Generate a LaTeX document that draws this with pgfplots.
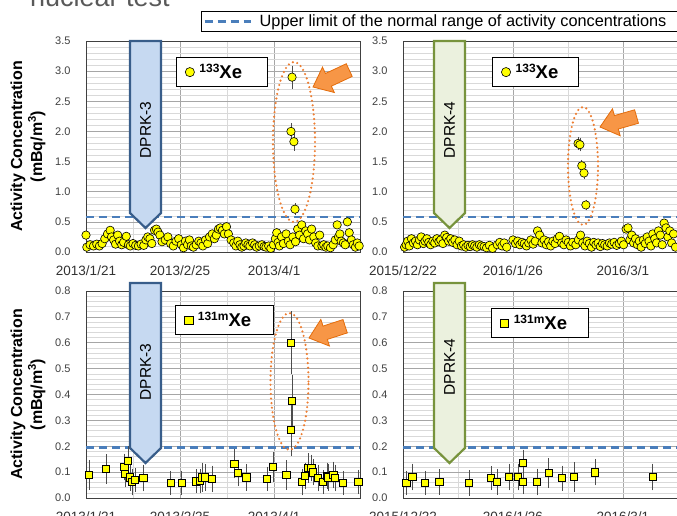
\documentclass[border=0pt]{standalone}
\usepackage{pgfplots}
\usepackage{pgfplotstable}
\pgfplotsset{compat=1.18}
\usepackage{fontspec}
\setmainfont{Liberation Sans}

\definecolor{xeyellow}{RGB}{255,255,0}
\definecolor{limblue}{RGB}{74,126,187}
\definecolor{dprkblue}{RGB}{198,217,241}
\definecolor{dprkblueb}{RGB}{56,93,138}
\definecolor{dprkgreen}{RGB}{235,241,222}
\definecolor{dprkgreenb}{RGB}{119,147,60}
\definecolor{orangefill}{RGB}{247,150,70}
\definecolor{orangedark}{RGB}{228,108,10}
\definecolor{orangeline}{RGB}{237,125,49}
\definecolor{gridmaj}{RGB}{166,166,166}
\definecolor{gridmin}{RGB}{217,217,217}

\newcommand{\iso}[1]{\raisebox{5.5pt}{\fontsize{12}{13}\selectfont\bfseries #1}}
\newcommand{\xelab}[2]{{\fontsize{18.5}{20}\selectfont\bfseries\iso{#1}Xe\rule{#2}{0pt}}}

% ---------- data ----------
\pgfplotstableread{
x y
0.0 0.28
0.3 0.08
1.5 0.12
2.8 0.10
4.0 0.13
5.0 0.10
6.0 0.14
7.0 0.22
8.0 0.30
9.0 0.36
9.5 0.25
10.3 0.20
11.0 0.13
11.8 0.28
12.5 0.18
13.3 0.12
14.0 0.16
15.0 0.26
15.8 0.12
16.5 0.10
17.5 0.14
18.5 0.11
19.5 0.10
20.5 0.13
21.5 0.11
22.3 0.20
23.0 0.25
23.8 0.22
24.5 0.14
25.5 0.36
26.2 0.38
26.8 0.33
27.5 0.28
28.3 0.17
29.5 0.20
30.5 0.25
31.5 0.14
32.5 0.10
33.5 0.18
34.5 0.22
35.5 0.12
36.3 0.07
37.0 0.18
37.8 0.12
38.5 0.20
39.2 0.10
40.0 0.08
41.0 0.12
42.0 0.18
42.8 0.15
43.5 0.10
44.5 0.20
45.3 0.14
46.0 0.25
47.0 0.30
47.8 0.22
48.5 0.28
49.3 0.38
50.0 0.40
50.8 0.36
51.5 0.30
52.3 0.42
53.0 0.30
54.0 0.20
55.0 0.15
55.8 0.10
56.5 0.18
57.3 0.12
58.0 0.08
58.8 0.10
59.5 0.15
60.3 0.12
61.0 0.10
62.0 0.15
62.8 0.12
63.5 0.08
64.5 0.10
65.5 0.12
66.3 0.09
67.0 0.08
68.0 0.10
68.8 0.06
69.8 0.12
70.5 0.22
71.0 0.32
71.5 0.16
72.0 0.10
72.8 0.25
73.5 0.14
74.5 0.30
75.3 0.18
76.0 0.12
77.0 0.25
78.0 0.17
78.8 0.38
79.5 0.28
80.3 0.45
81.0 0.22
81.8 0.35
82.5 0.30
83.2 0.20
84.0 0.38
84.8 0.25
85.5 0.15
86.3 0.10
87.0 0.28
87.8 0.10
88.5 0.12
89.3 0.08
90.0 0.10
91.0 0.07
92.0 0.12
92.8 0.20
93.5 0.45
94.0 0.25
94.5 0.30
95.0 0.18
95.8 0.15
96.5 0.12
97.3 0.50
98.0 0.32
98.8 0.20
99.5 0.12
100.3 0.08
101.0 0.15
101.7 0.10
}\tlmain
\pgfplotstableread{
x y e
76.3 2.00 0.09
76.7 2.90 0.14
77.4 1.83 0.10
77.8 0.71 0.05
}\tlout
\pgfplotstableread{
x y
0.5 0.08
1.0 0.12
1.5 0.18
2.0 0.10
2.7 0.22
3.3 0.15
4.0 0.18
4.6 0.12
5.2 0.20
5.8 0.25
6.5 0.14
7.0 0.18
7.6 0.22
8.2 0.16
8.8 0.12
9.5 0.18
10.1 0.15
10.8 0.22
11.4 0.17
12.0 0.20
12.7 0.14
13.3 0.28
13.9 0.24
14.5 0.18
15.2 0.22
15.8 0.16
16.5 0.20
17.2 0.12
17.9 0.18
18.6 0.10
19.3 0.12
20.0 0.08
20.7 0.11
21.4 0.09
22.1 0.12
22.8 0.10
23.5 0.08
24.3 0.12
25.0 0.10
25.8 0.09
26.6 0.07
27.5 0.11
28.5 0.06
30.0 0.12
30.8 0.16
31.5 0.10
32.2 0.15
33.0 0.08
35.0 0.20
35.8 0.14
36.5 0.18
37.2 0.12
37.9 0.16
38.6 0.14
39.3 0.10
40.0 0.15
40.7 0.20
41.4 0.13
42.1 0.18
42.8 0.35
43.5 0.28
44.2 0.15
44.9 0.20
45.6 0.12
46.3 0.17
47.0 0.10
47.7 0.18
48.4 0.14
49.1 0.22
49.8 0.26
50.5 0.15
51.2 0.12
51.9 0.20
52.6 0.16
53.3 0.10
54.0 0.16
55.0 0.12
55.8 0.20
56.5 0.28
57.2 0.15
57.9 0.10
58.6 0.18
59.3 0.14
60.0 0.08
60.7 0.16
61.4 0.12
62.1 0.15
62.8 0.09
63.5 0.14
64.2 0.12
65.0 0.10
65.7 0.15
66.4 0.13
67.2 0.16
68.0 0.11
68.8 0.14
69.5 0.18
70.2 0.12
71.0 0.38
71.6 0.40
72.2 0.20
72.8 0.28
73.4 0.15
74.0 0.22
74.6 0.12
75.2 0.18
75.8 0.08
76.5 0.20
77.1 0.14
77.7 0.25
78.3 0.18
78.9 0.10
79.5 0.30
80.1 0.22
80.7 0.15
81.3 0.35
81.9 0.28
82.5 0.12
83.1 0.48
83.7 0.40
84.3 0.25
84.9 0.35
85.5 0.15
86.1 0.30
86.7 0.08
}\trmain
\pgfplotstableread{
x y e
55.7 1.80 0.06
56.3 1.78 0.06
56.9 1.43 0.05
57.6 1.31 0.05
58.2 0.78 0.04
}\trout
\pgfplotstableread{
x y e
1.1 0.089 0.045
7.4 0.112 0.045
14.2 0.120 0.040
14.5 0.093 0.040
15.6 0.143 0.045
16.4 0.080 0.040
17.1 0.062 0.040
18.2 0.070 0.035
21.3 0.077 0.040
31.5 0.058 0.035
35.6 0.058 0.035
40.9 0.064 0.035
42.4 0.066 0.035
43.2 0.080 0.045
44.3 0.080 0.040
46.9 0.074 0.040
55.2 0.132 0.045
56.6 0.097 0.040
59.6 0.080 0.040
67.4 0.074 0.035
69.6 0.120 0.045
74.5 0.089 0.045
80.4 0.062 0.040
81.5 0.085 0.040
82.7 0.116 0.045
83.8 0.116 0.040
84.5 0.100 0.040
86.4 0.077 0.040
88.2 0.062 0.035
89.7 0.085 0.040
90.1 0.080 0.040
92.0 0.089 0.040
92.7 0.077 0.040
95.7 0.058 0.035
101.3 0.062 0.035
}\blmain
\pgfplotstableread{
x y e
76.3 0.600 0.11
76.7 0.375 0.09
76.3 0.263 0.09
}\blout
\pgfplotstableread{
x y e
1.0 0.058 0.035
2.9 0.081 0.040
7.0 0.058 0.035
11.5 0.062 0.037
21.0 0.058 0.037
28.0 0.077 0.035
29.9 0.062 0.037
33.7 0.081 0.040
36.6 0.081 0.040
38.2 0.135 0.040
38.2 0.062 0.035
42.6 0.062 0.040
46.4 0.097 0.045
50.6 0.077 0.037
54.4 0.081 0.045
61.1 0.100 0.040
79.5 0.081 0.040
}\brmain

\pgfplotsset{
  panel/.style={
    scale only axis, width=274pt, anchor=south west,
    axis line style={black!75, line width=0.8pt},
    grid=both,
    major grid style={gridmaj, line width=0.7pt},
    minor grid style={gridmin, line width=0.5pt},
    major tick length=0pt, minor tick length=0pt,
    minor x tick num=1,
    xtick={0,35,70},
    ymin=0, clip=false,
    /pgf/number format/fixed, /pgf/number format/fixed zerofill,
    /pgf/number format/precision=1, /pgf/number format/assume math mode=true,
    yticklabel style={font=\fontsize{11}{13}\selectfont, text=black!75, xshift=-12pt},
    xticklabel style={font=\fontsize{13.5}{15}\selectfont, text=black!80, yshift=-10pt},
    every axis y label/.style={at={(axis description cs:-0.2117,0.5)}, rotate=90, anchor=center,
      font=\fontsize{16}{20}\selectfont\bfseries, align=center, text=black},
    legend style={draw=black, line width=0.8pt, fill=white, inner xsep=9pt, inner ysep=5pt,
      anchor=north west, column sep=3pt},
    legend cell align=left,
    legend image code/.code={\draw[##1] plot coordinates {(0pt,0pt)};},
  },
  toppanel/.style={panel, height=211pt, ymax=3.5, ytick={0,0.5,1,1.5,2,2.5,3,3.5}, minor y tick num=4},
  botpanel/.style={panel, height=207pt, ymax=0.8, ytick={0,0.1,0.2,0.3,0.4,0.5,0.6,0.7,0.8}, minor y tick num=4},
  c133/.style={only marks, mark=*, mark size=4.2pt, mark options={solid, fill=xeyellow, draw=black, line width=0.6pt}},
  s131/.style={only marks, mark=square*, mark size=3.7pt, mark options={solid, fill=xeyellow, draw=black, line width=0.6pt}},
  lim/.style={limblue, line width=2.2pt, dash pattern=on 8pt off 5pt},
  eb/.style={error bars/y dir=both, error bars/y explicit,
    error bars/error bar style={black!70, line width=0.7pt},
    error bars/error mark options={black!70, mark size=3pt, line width=0.7pt}},
}

\begin{document}
\begin{tikzpicture}
\useasboundingbox (0pt,0pt) rectangle (677pt,516pt);

% partial title
\node[anchor=base west, font=\fontsize{27}{30}\selectfont, text=black!65, inner sep=0pt] at (30pt,509pt) {nuclear test};

% ---------- top left ----------
\begin{axis}[toppanel, at={(86pt,264pt)}, xmin=0, xmax=102,
  xticklabels={2013/1/21,2013/2/25,2013/4/1},
  ylabel={Activity Concentration\\(mBq/m\textsuperscript{3})},
  legend style={at={(rel axis cs:0.328,0.924)}}]
\addlegendimage{c133, mark size=4.6pt}
\addlegendentry{\xelab{133}{14pt}}
\addplot[lim, forget plot] coordinates {(0,0.58) (102,0.58)};
\addplot[c133, forget plot] table[x=x,y=y] {\tlmain};
\addplot[c133, eb, forget plot] table[x=x,y=y,y error=e] {\tlout};
\end{axis}

% ---------- top right ----------
\begin{axis}[toppanel, at={(403pt,264pt)}, xmin=0, xmax=87.2,
  xticklabels={2015/12/22,2016/1/26,2016/3/1},
  legend style={at={(rel axis cs:0.325,0.924)}}]
\addlegendimage{c133, mark size=4.6pt}
\addlegendentry{\xelab{133}{9pt}}
\addplot[lim, forget plot] coordinates {(0,0.58) (87.2,0.58)};
\addplot[c133, forget plot] table[x=x,y=y] {\trmain};
\addplot[c133, eb, forget plot] table[x=x,y=y,y error=e] {\trout};
\end{axis}

% ---------- bottom left ----------
\begin{axis}[botpanel, at={(86pt,18pt)}, xmin=0, xmax=102,
  xticklabels={2013/1/21,2013/2/25,2013/4/1},
  ylabel={Activity Concentration\\(mBq/m\textsuperscript{3})},
  legend style={at={(rel axis cs:0.325,0.932)}}]
\addlegendimage{s131, mark size=4.2pt}
\addlegendentry{\xelab{131m}{11pt}}
\addplot[lim, forget plot] coordinates {(0,0.195) (102,0.195)};
\addplot[s131, eb, forget plot] table[x=x,y=y,y error=e] {\blmain};
\addplot[s131, eb, forget plot] table[x=x,y=y,y error=e] {\blout};
\end{axis}

% ---------- bottom right ----------
\begin{axis}[botpanel, at={(403pt,18pt)}, xmin=0, xmax=87.2,
  xticklabels={2015/12/22,2016/1/26,2016/3/1},
  legend style={at={(rel axis cs:0.321,0.918)}}]
\addlegendimage{s131, mark size=4.2pt}
\addlegendentry{\xelab{131m}{10pt}}
\addplot[lim, forget plot] coordinates {(0,0.195) (87.2,0.195)};
\addplot[s131, eb, forget plot] table[x=x,y=y,y error=e] {\brmain};
\end{axis}

% ---------- top legend (upper limit) ----------
\begin{axis}[scale only axis, width=274pt, height=211pt, at={(86pt,264pt)}, anchor=south west,
  hide axis, xmin=0, xmax=1, ymin=0, ymax=1,
  legend style={at={(rel axis cs:0.42,1.142)}, anchor=north west, draw=black, line width=0.8pt,
    font=\fontsize{16.3}{18}\selectfont, inner xsep=2pt, inner ysep=1.5pt, column sep=6pt},
  legend image code/.code={\draw[#1] (0pt,0pt) -- (46pt,0pt);}]
\addlegendimage{lim}
\addlegendentry{Upper limit of the normal range of activity concentrations\rule{7pt}{0pt}}
\end{axis}

% ---------- DPRK arrows ----------
\filldraw[fill=dprkblue, draw=dprkblueb, line width=2.2pt, line join=miter]
  (130pt,475pt) -- (161pt,475pt) -- (161pt,303pt) -- (145.5pt,288pt) -- (130pt,303pt) -- cycle;
\node[rotate=90, font=\fontsize{15.5}{17}\selectfont] at (145.5pt,386pt) {DPRK-3};
\filldraw[fill=dprkgreen, draw=dprkgreenb, line width=2.2pt, line join=miter]
  (434pt,475pt) -- (465pt,475pt) -- (465pt,303pt) -- (449.5pt,288pt) -- (434pt,303pt) -- cycle;
\node[rotate=90, font=\fontsize{15.5}{17}\selectfont] at (449.5pt,386pt) {DPRK-4};
\filldraw[fill=dprkblue, draw=dprkblueb, line width=2.2pt, line join=miter]
  (130pt,233pt) -- (161pt,233pt) -- (161pt,68pt) -- (145.5pt,53pt) -- (130pt,68pt) -- cycle;
\node[rotate=90, font=\fontsize{15.5}{17}\selectfont] at (145.5pt,144pt) {DPRK-3};
\filldraw[fill=dprkgreen, draw=dprkgreenb, line width=2.2pt, line join=miter]
  (434pt,233pt) -- (465pt,233pt) -- (465pt,68pt) -- (449.5pt,53pt) -- (434pt,68pt) -- cycle;
\node[rotate=90, font=\fontsize{15.5}{17}\selectfont] at (449.5pt,149pt) {DPRK-4};

% ---------- dotted ellipses ----------
\draw[orangeline, line width=2.4pt, line cap=round, dash pattern=on 0pt off 4.6pt]
  (294pt,374pt) ellipse [x radius=21pt, y radius=80pt];
\draw[orangeline, line width=2.4pt, line cap=round, dash pattern=on 0pt off 4.6pt]
  (583pt,350pt) ellipse [x radius=15pt, y radius=59pt];
\draw[orangeline, line width=2.4pt, line cap=round, dash pattern=on 0pt off 4.6pt]
  (289.5pt,134.5pt) ellipse [x radius=19pt, y radius=68.5pt];

% ---------- orange block arrows ----------
\begin{scope}[shift={(313pt,429pt)}, rotate=25]
\filldraw[fill=orangefill, draw=orangedark, line width=0.8pt]
  (0pt,0pt) -- (17pt,14pt) -- (17pt,7pt) -- (40pt,7pt) -- (40pt,-7pt) -- (17pt,-7pt) -- (17pt,-14pt) -- cycle;
\end{scope}
\begin{scope}[shift={(600pt,389pt)}, rotate=16]
\filldraw[fill=orangefill, draw=orangedark, line width=0.8pt]
  (0pt,0pt) -- (17pt,14pt) -- (17pt,7pt) -- (38pt,7pt) -- (38pt,-7pt) -- (17pt,-7pt) -- (17pt,-14pt) -- cycle;
\end{scope}
\begin{scope}[shift={(309pt,178pt)}, rotate=18]
\filldraw[fill=orangefill, draw=orangedark, line width=0.8pt]
  (0pt,0pt) -- (17pt,14pt) -- (17pt,7pt) -- (38pt,7pt) -- (38pt,-7pt) -- (17pt,-7pt) -- (17pt,-14pt) -- cycle;
\end{scope}
\end{tikzpicture}
\end{document}
